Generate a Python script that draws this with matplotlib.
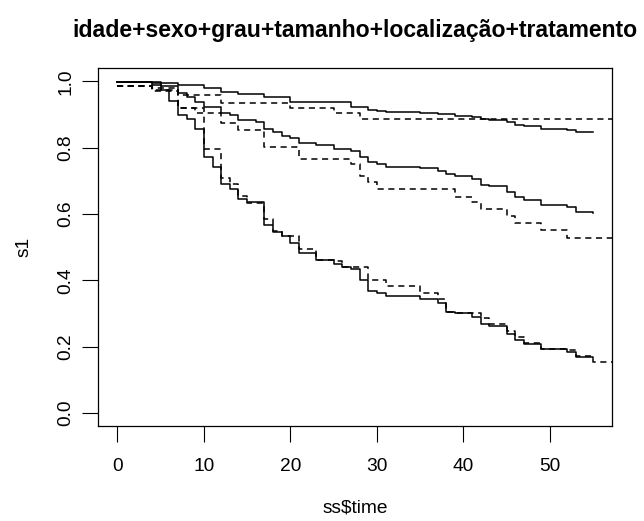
import matplotlib
matplotlib.use("Agg")
import matplotlib.pyplot as plt

plt.rcParams['font.family'] = ['Liberation Sans', 'DejaVu Sans']

title = "idade+sexo+grau+tamanho+localização+tratamento"
xlabel = "ss$time"
ylabel = "s1"
xticks = [0, 10, 20, 30, 40, 50]
yticks = [0.0, 0.2, 0.4, 0.6, 0.8, 1.0]
ytick_labels = ["0.0", "0.2", "0.4", "0.6", "0.8", "1.0"]

# Top group
top_solid_t = [0, 4, 5, 7, 10, 12, 14, 17, 20, 27, 29, 30, 31, 35, 37, 39, 41, 42, 43, 45, 46, 47, 49, 52, 53, 55]
top_solid_s = [0.999, 0.997, 0.994, 0.99, 0.979, 0.969, 0.962, 0.952, 0.939, 0.923, 0.914, 0.909, 0.907, 0.904, 0.901, 0.896, 0.892, 0.886, 0.883, 0.878, 0.868, 0.864, 0.855, 0.853, 0.846, 0.846]
top_dash_t = [0, 4, 7, 12, 20, 25, 28, 60]
top_dash_s = [0.986, 0.98, 0.96, 0.936, 0.919, 0.905, 0.886, 0.886]

# Middle group
mid_solid_t = [0, 4, 5, 7, 8, 9, 10, 12, 13, 14, 16, 17, 18, 19, 20, 21, 23, 25, 27, 28, 29, 30, 31, 35, 37, 38, 39, 41, 42, 43, 45, 46, 47, 49, 52, 53, 55]
mid_solid_s = [0.999, 0.995, 0.985, 0.965, 0.954, 0.939, 0.923, 0.904, 0.898, 0.883, 0.878, 0.855, 0.848, 0.835, 0.828, 0.813, 0.808, 0.795, 0.791, 0.771, 0.758, 0.751, 0.743, 0.738, 0.731, 0.72, 0.715, 0.706, 0.686, 0.683, 0.666, 0.652, 0.642, 0.627, 0.62, 0.607, 0.602]
mid_dash_t = [0, 4, 7, 9, 12, 14, 17, 21, 27, 28, 29, 30, 39, 41, 42, 45, 46, 49, 52, 60]
mid_dash_s = [0.986, 0.975, 0.919, 0.904, 0.873, 0.853, 0.801, 0.765, 0.75, 0.713, 0.695, 0.675, 0.652, 0.636, 0.615, 0.594, 0.572, 0.552, 0.529, 0.529]

# Bottom group
bot_solid_t = [0, 4, 5, 6, 7, 8, 9, 10, 11, 12, 13, 14, 15, 17, 18, 19, 20, 21, 23, 25, 26, 27, 28, 29, 30, 31, 35, 37, 38, 39, 41, 42, 43, 45, 46, 47, 49, 52, 53, 55]
bot_solid_s = [0.999, 0.99, 0.975, 0.94, 0.898, 0.886, 0.855, 0.773, 0.743, 0.69, 0.675, 0.644, 0.635, 0.567, 0.547, 0.534, 0.512, 0.482, 0.46, 0.45, 0.44, 0.434, 0.401, 0.369, 0.363, 0.353, 0.343, 0.333, 0.306, 0.301, 0.289, 0.268, 0.261, 0.239, 0.219, 0.209, 0.193, 0.183, 0.17, 0.166]
bot_dash_t = [0, 4, 7, 10, 12, 13, 14, 15, 17, 18, 19, 21, 23, 25, 26, 29, 31, 35, 37, 38, 39, 42, 43, 45, 46, 47, 49, 52, 53, 55, 60]
bot_dash_s = [0.986, 0.97, 0.92, 0.795, 0.708, 0.69, 0.654, 0.634, 0.584, 0.55, 0.534, 0.494, 0.46, 0.458, 0.44, 0.401, 0.383, 0.363, 0.343, 0.306, 0.303, 0.286, 0.268, 0.246, 0.229, 0.21, 0.193, 0.189, 0.173, 0.154, 0.154]

W, H = 644, 521
L, R, T, B = 98.3, 612.3, 68.0, 426.3
fig = plt.figure(figsize=(W/100, H/100), dpi=100)
ax = fig.add_axes([L/W, 1-B/H, (R-L)/W, (B-T)/H])

for t, s in [(top_solid_t, top_solid_s), (mid_solid_t, mid_solid_s), (bot_solid_t, bot_solid_s)]:
    ax.step(t, s, where='post', color='black', lw=1.1, ls='-')
for t, s in [(top_dash_t, top_dash_s), (mid_dash_t, mid_dash_s), (bot_dash_t, bot_dash_s)]:
    ax.step(t, s, where='post', color='black', lw=1.1, ls=(0, (4, 3)))

ax.set_xlim(-2.2, 57.2)
ax.set_ylim(-0.04, 1.04)
ax.set_xticks(xticks)
ax.set_yticks(yticks)
ax.set_yticklabels(ytick_labels, rotation=90, va='center')
ax.tick_params(axis='both', direction='out', length=11.5, width=0.8, labelsize=13.8)
ax.tick_params(axis='x', pad=11)
ax.tick_params(axis='y', pad=5.5)
for sp in ax.spines.values():
    sp.set_linewidth(0.9)
ax.set_xlabel(xlabel, fontsize=13.8, va='center')
ax.xaxis.set_label_coords(0.5, (B - 508) / (B - T))
ax.set_ylabel(ylabel, fontsize=13.8, va='center')
ax.yaxis.set_label_coords((24 - L) / (R - L), 0.5)
fig.text(355/W, 1-30/H, title, ha='center', va='center', fontsize=16.6, fontweight='bold')

fig.savefig("out.png", dpi=100)
